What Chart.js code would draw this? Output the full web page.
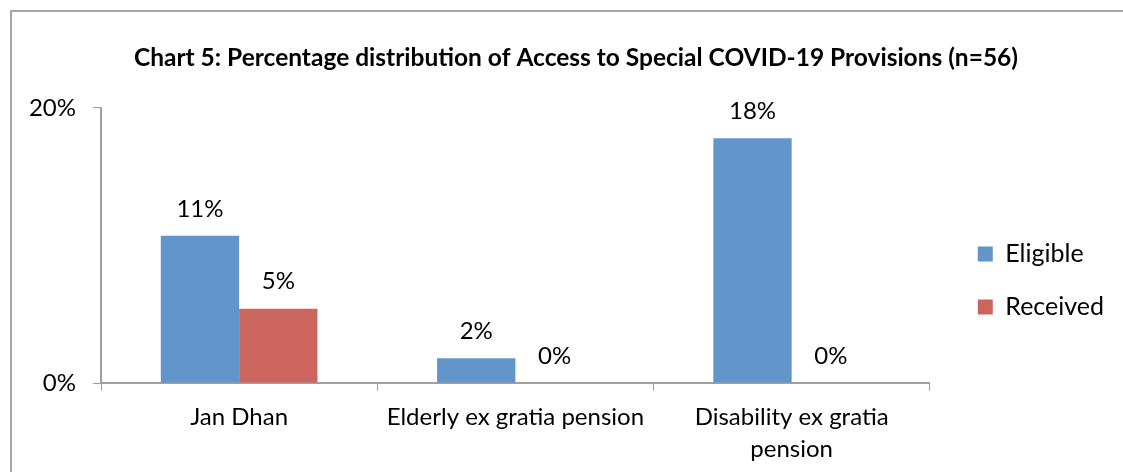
<script src="https://cdn.jsdelivr.net/npm/chart.js"></script>
<body style="margin:0;overflow:hidden;background:#fff">
<style>
    .frame {
        position: absolute;
        left: 10px;
        top: 10px;
        width: 1128px;
        height: 470px;
        border: 2px solid #a6a6a6;
        background: #fff;
    }
</style>
<div class="frame">
    <canvas id="chart5" width="1128" height="461"></canvas>
</div>
<script>
    var categories = ["Jan Dhan", "Elderly ex gratia pension", ["Disability ex gratia", "pension"]];
    var eligible = [10.7, 1.8, 17.8];
    var received = [5.4, 0, 0];
    var yTicks = [0, 20];

    // value labels above each bar
    var barLabels = {
        id: 'barLabels',
        afterDatasetsDraw: function(chart) {
            var ctx = chart.ctx;
            ctx.save();
            ctx.fillStyle = '#000';
            ctx.font = '24px Lato';
            ctx.textAlign = 'center';
            ctx.textBaseline = 'middle';
            chart.data.datasets.forEach(function(ds, i) {
                chart.getDatasetMeta(i).data.forEach(function(bar, j) {
                    ctx.fillText(Math.round(ds.data[j]) + '%', bar.x, bar.y - 27);
                });
            });
            ctx.restore();
        }
    };

    // nudge legend right/down and recentre the title on the whole frame
    var boxShift = {
        id: 'boxShift',
        afterLayout: function(chart) {
            var lg = chart.legend;
            lg.left += 20; lg.right += 20;
            lg.top += 38; lg.bottom += 38;
            var tb = chart.titleBlock;
            var dx = chart.width / 2 - (tb.left + tb.right) / 2;
            tb.left += dx; tb.right += dx;
        }
    };

    var chrt = document.getElementById("chart5").getContext("2d");
    var chart5 = new Chart(chrt, {
        type: 'bar',
        data: {
            labels: categories,
            datasets: [
                { label: "Eligible", data: eligible, backgroundColor: '#6296cb' },
                { label: "Received", data: received, backgroundColor: '#cd655f' }
            ]
        },
        options: {
            responsive: false,
            animation: false,
            categoryPercentage: 0.567,
            barPercentage: 1.0,
            layout: { padding: { left: 0, right: 46, top: 0, bottom: 0 } },
            plugins: {
                title: {
                    display: true,
                    text: 'Chart 5: Percentage distribution of Access to Special COVID-19 Provisions (n=56)',
                    color: '#000',
                    font: { family: 'Lato', size: 24.5, weight: 'bold' },
                    padding: { top: 31.5, bottom: 35 }
                },
                legend: {
                    position: 'right',
                    labels: {
                        color: '#000',
                        font: { family: 'Lato', size: 25 },
                        boxWidth: 15,
                        boxHeight: 15,
                        padding: 28
                    }
                },
                tooltip: { enabled: false }
            },
            scales: {
                x: {
                    grid: { display: true, drawOnChartArea: false, offset: true, color: '#a0a0a0', tickLength: 8 },
                    border: { color: '#a0a0a0', width: 2 },
                    ticks: { color: '#000', font: { family: 'Lato', size: 24, lineHeight: 1.35 }, padding: 10, maxRotation: 0 },
                    afterFit: function(scale) { scale.height = 90; }
                },
                y: {
                    min: 0,
                    max: 20,
                    afterBuildTicks: function(scale) { scale.ticks = yTicks.map(function(v) { return { value: v }; }); },
                    grid: { display: true, drawOnChartArea: false, color: '#a0a0a0', tickLength: 8 },
                    border: { color: '#a0a0a0', width: 2 },
                    ticks: {
                        color: '#000',
                        font: { family: 'Lato', size: 24 },
                        padding: 17,
                        callback: function(v) { return v + '%'; }
                    },
                    afterFit: function(scale) { scale.width = 89; }
                }
            }
        },
        plugins: [barLabels, boxShift]
    });
</script>
</body>
